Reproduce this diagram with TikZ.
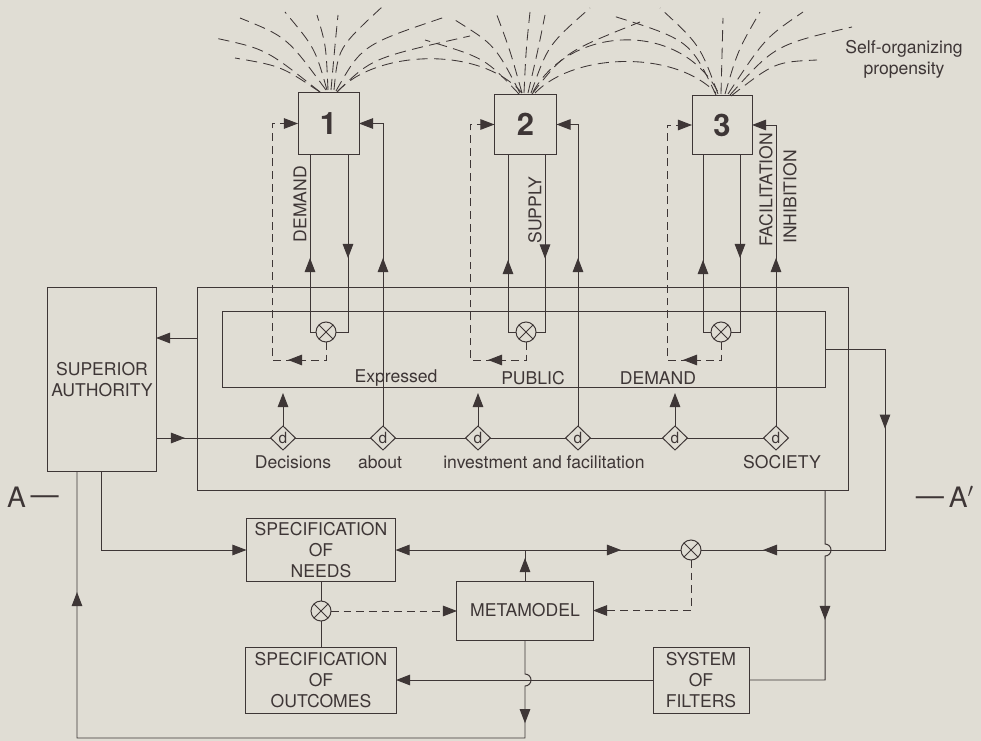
\documentclass[tikz,border=0pt]{standalone}
\usepackage{fontspec}
\setmainfont{TeX Gyre Heros}
\usepackage{xcolor}
\usetikzlibrary{arrows.meta}
\usetikzlibrary{shapes.geometric}
\usetikzlibrary{decorations.markings}

\definecolor{paper}{RGB}{224,221,212}
\definecolor{ink}{RGB}{62,54,54}

\begin{document}
\begin{tikzpicture}[x=0.025cm,y=-0.025cm,color=ink,line width=0.7pt,
    >={Triangle[length=10pt,width=7.5pt]},
    font=\fontsize{12.5}{15}\selectfont,
    box/.style={draw,rectangle,align=center,inner sep=0pt,outer sep=0pt},
    mult/.style={draw,circle,minimum size=0.5cm,inner sep=0pt,outer sep=0pt,
        path picture={\draw (path picture bounding box.north west) -- (path picture bounding box.south east)
            (path picture bounding box.south west) -- (path picture bounding box.north east);}},
    dnode/.style={diamond,draw,fill=paper,minimum width=0.62cm,minimum height=0.6cm,
        inner sep=0pt,outer sep=0pt,font=\fontsize{11}{11}\selectfont},
    midtip/.style={postaction={decorate,decoration={markings,mark=at position #1 with {\arrow{>}}}}},
    flow/.style={dash pattern=on 5.5pt off 3.5pt},
    fount/.style={dash pattern=on 8pt off 4.5pt,line width=0.6pt}]
        \fill[paper] (0,0) rectangle (981,741);
        \useasboundingbox (0,0) rectangle (981,741);

        \node[box,minimum width=1.525cm,minimum height=1.525cm,font=\fontsize{22}{24}\selectfont\bfseries] (b1) at (328.5,123.5) {1};
        \node[box,minimum width=1.55cm,minimum height=1.5cm,font=\fontsize{22}{24}\selectfont\bfseries] (b2) at (525.5,124.5) {2};
        \node[box,minimum width=1.5cm,minimum height=1.45cm,font=\fontsize{22}{24}\selectfont\bfseries] (b3) at (722,125) {3};
        \node[box,minimum width=2.7cm,minimum height=4.575cm] (sa) at (102,379.5) {SUPERIOR\\AUTHORITY};
        \node[box,minimum width=16.25cm,minimum height=5.05cm] (outer) at (523,389) {};
        \node[box,minimum width=15.05cm,minimum height=1.875cm] (inner) at (524,349.5) {};
        \node[box,minimum width=3.725cm,minimum height=1.575cm] (needs) at (321,550) {SPECIFICATION\\OF\\NEEDS};
        \node[box,minimum width=3.75cm,minimum height=1.65cm] (outcomes) at (321,680) {SPECIFICATION\\OF\\OUTCOMES};
        \node[box,minimum width=3.4cm,minimum height=1.475cm] (meta) at (525,610.5) {METAMODEL};
        \node[box,minimum width=2.4cm,minimum height=1.65cm] (filters) at (701,680) {SYSTEM\\OF\\FILTERS};

        \node[mult] (c1) at (326,332) {};
        \node[mult] (c2) at (526,332) {};
        \node[mult] (c3) at (721,332) {};
        \node[mult] (cR) at (691,550) {};
        \node[mult] (cN) at (321,611) {};
        \foreach \i/\x in {1/283,2/383,3/478,4/578,5/675,6/776}
            \node[dnode] (d\i) at (\x,438) {d};

        \node[rotate=90] (lDemand) at (300,204) {DEMAND};
        \node[rotate=90] (lSupply) at (535,210) {SUPPLY};
        \node[rotate=90] (lFacil) at (766,190) {FACILITATION};
        \node[rotate=90] (lInhib) at (790,197) {INHIBITION};
        \node (tExp) at (396,378) {Expressed};
        \node (tPub) at (533,378) {PUBLIC};
        \node (tDem) at (658,378) {DEMAND};
        \node (tDec) at (293,462) {Decisions};
        \node (tAbout) at (380,462) {about};
        \node (tInv) at (544,462) {investment and facilitation};
        \node (tSoc) at (782,462) {SOCIETY};
        \node[align=center] (tSelf) at (904,59) {Self-organizing\\propensity};
        \node[anchor=west,font=\fontsize{20}{22}\selectfont] (tA) at (2,497) {A\,\raisebox{2pt}{---}};
        \node[anchor=east,font=\fontsize{20}{22}\selectfont] (tA2) at (979,497) {\raisebox{2pt}{---}\,A$'$};

        \draw[midtip=2cm] (c1.west) -| (b1.south -| 310,0);
        \draw[midtip=2.6cm] (b1.south -| 348,0) |- (c1.east);
        \draw[flow,->,midtip=1.4cm] (c1.south) |- (272,360) |- (b1.west);
        \draw[midtip=2cm] (c2.west) -| (b2.south -| 508,0);
        \draw[midtip=2.6cm] (b2.south -| 545,0) |- (c2.east);
        \draw[flow,->,midtip=1.4cm] (c2.south) |- (470,360) |- (b2.west);
        \draw[midtip=2cm] (c3.west) -| (b3.south -| 703,0);
        \draw[midtip=2.6cm] (b3.south -| 740,0) |- (c3.east);
        \draw[flow,->,midtip=1.4cm] (c3.south) |- (667,360) |- (b3.west);

        \draw[->,midtip=4.2cm] (d2.north) |- (b1.east);
        \draw[->,midtip=4.2cm] (d4.north) |- (b2.east);
        \draw[->,midtip=4.2cm] (d6.north) |- (b3.east);
        \foreach \i in {1,3,5}
            \draw[->] (d\i.north) -- ++(0,-33);
        \draw[midtip=0.725cm] (sa.east |- d1) -- (d1);
        \foreach \i/\j in {1/2,2/3,3/4,4/5,5/6}
            \draw (d\i) -- (d\j);

        \draw[->] (outer.west |- 0,338) -- (sa.east |- 0,338);
        \draw[->] (sa.south -| 101,0) |- (needs.west);
        \draw[midtip=2.25cm,midtip=-3.025cm] (meta.south) -- (525,674) arc[start angle=90,end angle=-90,radius=0.15cm] -- (525,738) -| (sa.south -| 77,0);
        \draw[midtip=0.575cm] (meta.north) -- (meta.north |- cR);
        \draw[->] (meta.north |- cR) -- (needs.east |- cR);
        \draw[midtip=2.4cm] (meta.north |- cR) -- (cR);
        \draw[flow,->] (cR.south) |- (meta.east);
        \draw[flow,->] (cN) -- (meta.west |- cN);
        \draw (needs) -- (cN) -- (outcomes);
        \draw[midtip=3.475cm,midtip=-1.55cm] (inner.east) -| (885,550) -- (cR);
        \draw[midtip=-3.4cm] (outer.south -| 825,0) -- (825,544) arc[start angle=90,end angle=-90,radius=0.15cm] -- (825,680) -- (filters.east);
        \draw[->] (filters) -- (outcomes);

        \foreach \sx/\sy/\cx/\cy/\ex/\ey in {320/92/266/49/215/38, 320/92/281/66/235/58, 326/90/287/37/240/18,
                327/90/315/48/285/12, 328/90/326/45/317/15, 331/90/335/45/338/15, 334/90/338/48/382/7,
                336/91/362/45/445/17, 337/92/372/58/470/36,
                519/94/485/58/425/40, 520/93/495/45/455/20, 522/93/510/50/495/10, 524/93/526/50/530/12,
                528/93/538/50/545/15, 531/93/548/45/590/8, 532/94/565/52/640/22,
                716/95/690/40/610/15, 718/94/700/45/660/8, 721/94/722/55/723/18, 725/94/738/50/760/12,
                728/94/765/38/803/12, 730/95/775/45/852/27, 731/96/775/62/817/60}
            \draw[fount] (\sx,\sy) .. controls (\cx,\cy) .. (\ex,\ey);
        \draw[fount] (337,92) .. controls (375,50) and (480,45) .. (522,93);
        \draw[fount] (535,93) .. controls (575,52) and (675,50) .. (716,93);
        \draw[fount] (533,92) .. controls (570,25) and (680,20) .. (718,92);
\end{tikzpicture}
\end{document}
